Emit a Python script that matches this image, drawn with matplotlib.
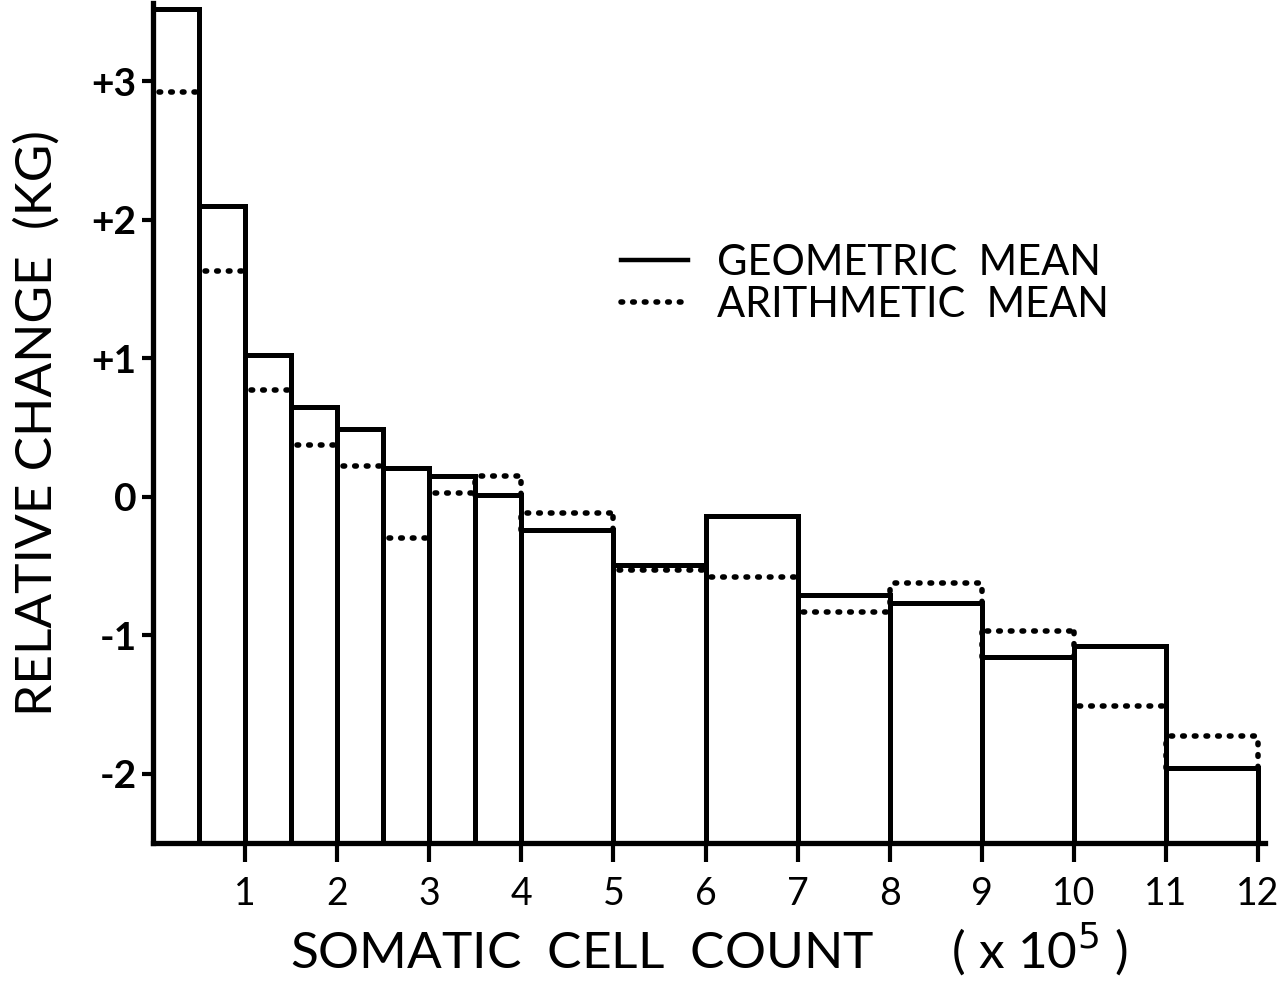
import numpy as np
import matplotlib.pyplot as plt
from matplotlib.lines import Line2D

plt.rcParams['font.family'] = ['Lato', 'DejaVu Sans']

# bin edges of somatic cell count (x 10^5)
edges = [0, 0.5, 1, 1.5, 2, 2.5, 3, 3.5, 4, 5, 6, 7, 8, 9, 10, 11, 12]
# relative change (kg) per bin
geometric = [3.52, 2.10, 1.02, 0.65, 0.49, 0.21, 0.15, 0.01,
             -0.24, -0.49, -0.14, -0.71, -0.77, -1.16, -1.08, -1.96]
arithmetic = [2.92, 1.63, 0.77, 0.37, 0.22, -0.30, 0.03, 0.15,
              -0.12, -0.53, -0.58, -0.83, -0.62, -0.97, -1.51, -1.73]

y_ticks = [-2, -1, 0, 1, 2, 3]
y_ticklabels = ['-2', '-1', '0', '+1', '+2', '+3']
x_ticks = list(range(1, 13))

base = -2.5
left = np.array(edges[:-1])
widths = np.diff(edges)
geo = np.array(geometric)
ari = np.array(arithmetic)

fig = plt.figure(figsize=(12.83, 9.82), dpi=100)
ax = fig.add_axes([0.1193, 0.1415, 0.867, 0.855])

dot = dict(color='black', lw=4, linestyle=(0, (0.3, 1.8)))

# arithmetic mean: dotted level in each bin, plus dotted sides where it sits above the bar
ax.hlines(ari, left + 0.06, left + widths - 0.02, zorder=1, capstyle='round', **dot)
up = ari > geo
ax.vlines(left[up] + widths[up], geo[up], ari[up], zorder=1, capstyle='round', **dot)
ax.vlines(left[up], geo[up], ari[up], zorder=1, capstyle='round', **dot)

# geometric mean: solid outlined bars
ax.bar(left, geo - base, width=widths, bottom=base, align='edge',
       facecolor='none', edgecolor='black', linewidth=3.6, zorder=2)

ax.set_xlim(0, 12.08)
ax.set_ylim(base, 3.56)

for s in ['top', 'right']:
    ax.spines[s].set_visible(False)
for s in ['left', 'bottom']:
    ax.spines[s].set_linewidth(3.8)

ax.set_yticks(y_ticks)
ax.set_yticklabels(y_ticklabels, fontsize=28, fontweight='bold')
ax.set_xticks(x_ticks)
ax.set_xticklabels([str(t) for t in x_ticks], fontsize=27)
ax.tick_params(axis='y', length=8, width=3, pad=4)
ax.tick_params(axis='x', length=14, width=3, pad=10)

ax.set_xlabel('SOMATIC  CELL  COUNT      ( x 10$^5$ )', fontsize=37, labelpad=6)
ax.set_ylabel('RELATIVE CHANGE  (KG)', fontsize=37, labelpad=22)

handles = [Line2D([], [], color='black', lw=3.2),
           Line2D([], [], dash_capstyle='round', **dot)]
fig.legend(handles, ['GEOMETRIC  MEAN', 'ARITHMETIC  MEAN'],
           loc='upper left', bbox_to_anchor=(0.455, 0.79), frameon=False,
           fontsize=30, handlelength=1.6, handletextpad=0.7, labelspacing=0.1)

fig.savefig('out.png', dpi=100)
